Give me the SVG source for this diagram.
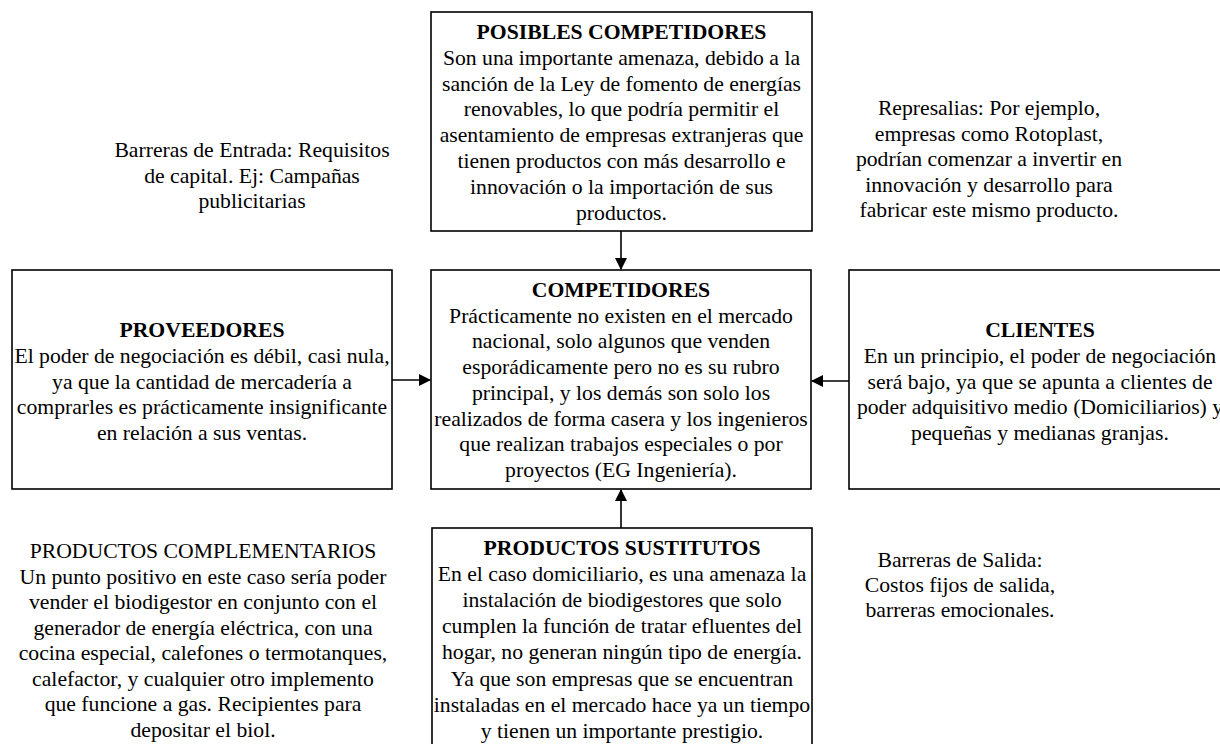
<svg xmlns="http://www.w3.org/2000/svg" width="1220" height="744" viewBox="0 0 1220 744">
<style>
.box{fill:#fff;stroke:#000;stroke-width:1.6}
.t{font-family:"Liberation Serif","Times New Roman",serif;font-size:21.7px;fill:#000;text-anchor:middle}
.b{font-weight:bold}
.c{stroke:#000;stroke-width:1.6;fill:none}
</style>
<defs>
<marker id="ah" markerWidth="12" markerHeight="12" refX="11" refY="6" orient="auto" markerUnits="userSpaceOnUse">
<path d="M0,0 L12,6 L0,12 Z" fill="#000"/>
</marker>
</defs>
<rect width="1220" height="744" fill="#fff"/>
<g id="connectors">
<line class="c" x1="621" y1="231" x2="621" y2="269" marker-end="url(#ah)"/>
<line class="c" x1="392" y1="380" x2="430" y2="380" marker-end="url(#ah)"/>
<line class="c" x1="849" y1="381" x2="812" y2="381" marker-end="url(#ah)"/>
<line class="c" x1="621" y1="528" x2="621" y2="490" marker-end="url(#ah)"/>
</g>
<g id="posibles">
<rect class="box" x="431" y="12" width="381" height="219"/>
<text class="t"><tspan class="b" x="621.5" y="39">POSIBLES COMPETIDORES</tspan><tspan x="621.5" y="64.8">Son una importante amenaza, debido a la</tspan><tspan x="621.5" y="90.6">sanción de la Ley de fomento de energías</tspan><tspan x="621.5" y="116.4">renovables, lo que podría permitir el</tspan><tspan x="621.5" y="142.2">asentamiento de empresas extranjeras que</tspan><tspan x="621.5" y="168">tienen productos con más desarrollo e</tspan><tspan x="621.5" y="193.8">innovación o la importación de sus</tspan><tspan x="621.5" y="219.6">productos.</tspan></text>
</g>
<g id="competidores">
<rect class="box" x="431" y="270" width="380" height="219"/>
<text class="t"><tspan class="b" x="621" y="297">COMPETIDORES</tspan><tspan x="621" y="322.7">Prácticamente no existen en el mercado</tspan><tspan x="621" y="348.4">nacional, solo algunos que venden</tspan><tspan x="621" y="374.1">esporádicamente pero no es su rubro</tspan><tspan x="621" y="399.8">principal, y los demás son solo los</tspan><tspan x="621" y="425.5">realizados de forma casera y los ingenieros</tspan><tspan x="621" y="451.2">que realizan trabajos especiales o por</tspan><tspan x="621" y="476.9">proyectos (EG Ingeniería).</tspan></text>
</g>
<g id="proveedores">
<rect class="box" x="12" y="270" width="380" height="219"/>
<text class="t"><tspan class="b" x="202" y="337">PROVEEDORES</tspan><tspan x="202" y="362.8">El poder de negociación es débil, casi nula,</tspan><tspan x="202" y="388.6">ya que la cantidad de mercadería a</tspan><tspan x="202" y="414.4">comprarles es prácticamente insignificante</tspan><tspan x="202" y="440.2">en relación a sus ventas.</tspan></text>
</g>
<g id="clientes">
<rect class="box" x="849" y="270" width="382" height="219"/>
<text class="t"><tspan class="b" x="1040" y="337">CLIENTES</tspan><tspan x="1040" y="362.8">En un principio, el poder de negociación</tspan><tspan x="1040" y="388.6">será bajo, ya que se apunta a clientes de</tspan><tspan x="1040" y="414.4">poder adquisitivo medio (Domiciliarios) y</tspan><tspan x="1040" y="440.2">pequeñas y medianas granjas.</tspan></text>
</g>
<g id="sustitutos">
<rect class="box" x="432" y="528" width="380" height="230"/>
<text class="t"><tspan class="b" x="622" y="555">PRODUCTOS SUSTITUTOS</tspan><tspan x="622" y="581.1">En el caso domiciliario, es una amenaza la</tspan><tspan x="622" y="607.2">instalación de biodigestores que solo</tspan><tspan x="622" y="633.3">cumplen la función de tratar efluentes del</tspan><tspan x="622" y="659.4">hogar, no generan ningún tipo de energía.</tspan><tspan x="622" y="685.5">Ya que son empresas que se encuentran</tspan><tspan x="622" y="711.6">instaladas en el mercado hace ya un tiempo</tspan><tspan x="622" y="737.7">y  tienen un importante prestigio.</tspan></text>
</g>
<g id="barreras-entrada">
<text class="t"><tspan x="252" y="157">Barreras de Entrada: Requisitos</tspan><tspan x="252" y="182.5">de capital. Ej: Campañas</tspan><tspan x="252" y="208">publicitarias</tspan></text>
</g>
<g id="represalias">
<text class="t"><tspan x="989" y="115">Represalias: Por ejemplo,</tspan><tspan x="989" y="140.5">empresas como Rotoplast,</tspan><tspan x="989" y="166">podrían comenzar a invertir en</tspan><tspan x="989" y="191.5">innovación y desarrollo para</tspan><tspan x="989" y="217">fabricar este mismo producto.</tspan></text>
</g>
<g id="complementarios">
<text class="t"><tspan x="203" y="558">PRODUCTOS COMPLEMENTARIOS</tspan><tspan x="203" y="583.5">Un punto positivo en este caso sería poder</tspan><tspan x="203" y="609">vender el biodigestor en conjunto con el</tspan><tspan x="203" y="634.5">generador de energía eléctrica, con una</tspan><tspan x="203" y="660">cocina especial, calefones o termotanques,</tspan><tspan x="203" y="685.5">calefactor, y cualquier otro implemento</tspan><tspan x="203" y="711">que funcione a gas. Recipientes para</tspan><tspan x="203" y="736.5">depositar el biol.</tspan></text>
</g>
<g id="barreras-salida">
<text class="t"><tspan x="960" y="567">Barreras de Salida:</tspan><tspan x="960" y="592">Costos fijos de salida,</tspan><tspan x="960" y="617">barreras emocionales.</tspan></text>
</g>
</svg>
